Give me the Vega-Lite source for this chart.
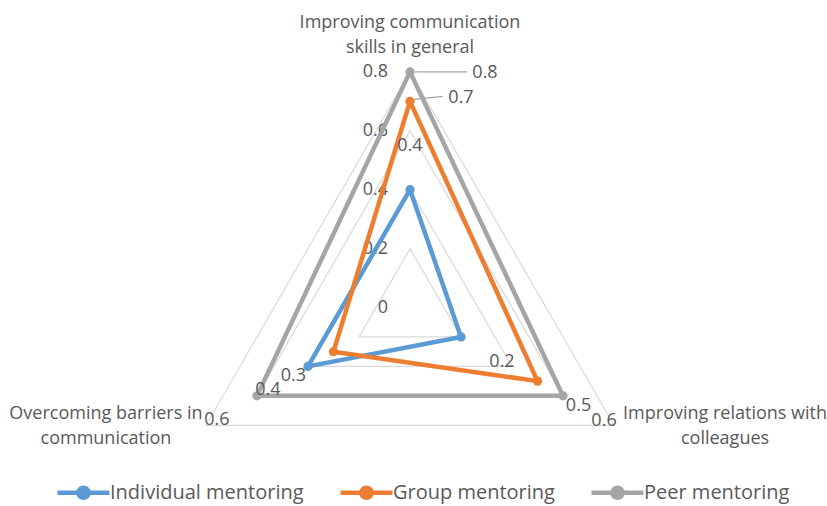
{
  "$schema": "https://vega.github.io/schema/vega-lite/v6.json",
  "width": 827,
  "height": 506,
  "autosize": "none",
  "padding": 0,
  "background": "white",
  "config": {"view": {"stroke": null}, "font": "Open Sans"},
  "datasets": {
    "scores": [
      {"series": "Individual mentoring", "category": "Improving communication skills in general", "k": 0, "value": 0.4},
      {"series": "Individual mentoring", "category": "Improving relations with colleagues", "k": 1, "value": 0.2},
      {"series": "Individual mentoring", "category": "Overcoming barriers in communication", "k": 2, "value": 0.4},
      {"series": "Group mentoring", "category": "Improving communication skills in general", "k": 0, "value": 0.7},
      {"series": "Group mentoring", "category": "Improving relations with colleagues", "k": 1, "value": 0.5},
      {"series": "Group mentoring", "category": "Overcoming barriers in communication", "k": 2, "value": 0.3},
      {"series": "Peer mentoring", "category": "Improving communication skills in general", "k": 0, "value": 0.8},
      {"series": "Peer mentoring", "category": "Improving relations with colleagues", "k": 1, "value": 0.6},
      {"series": "Peer mentoring", "category": "Overcoming barriers in communication", "k": 2, "value": 0.6}
    ],
    "grid": [
      {"level": 0.2, "k": 0}, {"level": 0.2, "k": 1}, {"level": 0.2, "k": 2},
      {"level": 0.4, "k": 0}, {"level": 0.4, "k": 1}, {"level": 0.4, "k": 2},
      {"level": 0.6, "k": 0}, {"level": 0.6, "k": 1}, {"level": 0.6, "k": 2},
      {"level": 0.8, "k": 0}, {"level": 0.8, "k": 1}, {"level": 0.8, "k": 2}
    ],
    "ticks": [{"level": 0}, {"level": 0.2}, {"level": 0.4}, {"level": 0.6}, {"level": 0.8}],
    "categories": [
      {"k": 0, "label": ["Improving communication", "skills in general"]},
      {"k": 1, "label": ["Improving relations with", "colleagues"]},
      {"k": 2, "label": ["Overcoming barriers in", "communication"]}
    ]
  },
  "encoding": {
    "x": {"field": "x", "type": "quantitative", "scale": {"domain": [-1.39219, 1.41596], "nice": false, "zero": false}, "axis": null},
    "y": {"field": "y", "type": "quantitative", "scale": {"domain": [-0.67402, 1.04414], "nice": false, "zero": false}, "axis": null}
  },
  "layer": [
    {
      "data": {"name": "grid"},
      "transform": [
        {"calculate": "datum.level * sin(datum.k * 2 * PI / 3)", "as": "x"},
        {"calculate": "datum.level * cos(datum.k * 2 * PI / 3)", "as": "y"}
      ],
      "mark": {"type": "line", "interpolate": "linear-closed", "stroke": "#d9d9d9", "strokeWidth": 1.2},
      "encoding": {"detail": {"field": "level"}, "order": {"field": "k"}}
    },
    {
      "data": {"name": "ticks"},
      "transform": [
        {"calculate": "0", "as": "x"},
        {"calculate": "datum.level", "as": "y"}
      ],
      "mark": {"type": "text", "align": "right", "baseline": "middle", "dx": -22, "fontSize": 18, "fill": "#595959"},
      "encoding": {"text": {"field": "level", "type": "quantitative", "format": ".1~f"}}
    },
    {
      "data": {"name": "categories"},
      "transform": [
        {"filter": "datum.k == 0"},
        {"calculate": "0.8 * sin(datum.k * 2 * PI / 3)", "as": "x"},
        {"calculate": "0.8 * cos(datum.k * 2 * PI / 3)", "as": "y"}
      ],
      "mark": {"type": "text", "align": "center", "baseline": "middle", "dy": -49, "lineHeight": 25, "fontSize": 18, "fill": "#595959"},
      "encoding": {"text": {"field": "label"}}
    },
    {
      "data": {"name": "categories"},
      "transform": [
        {"filter": "datum.k == 1"},
        {"calculate": "0.8 * sin(datum.k * 2 * PI / 3)", "as": "x"},
        {"calculate": "0.8 * cos(datum.k * 2 * PI / 3)", "as": "y"}
      ],
      "mark": {"type": "text", "align": "center", "baseline": "middle", "dx": 111, "dy": -11, "lineHeight": 25, "fontSize": 18, "fill": "#595959"},
      "encoding": {"text": {"field": "label"}}
    },
    {
      "data": {"name": "categories"},
      "transform": [
        {"filter": "datum.k == 2"},
        {"calculate": "0.8 * sin(datum.k * 2 * PI / 3)", "as": "x"},
        {"calculate": "0.8 * cos(datum.k * 2 * PI / 3)", "as": "y"}
      ],
      "mark": {"type": "text", "align": "center", "baseline": "middle", "dx": -100, "dy": -11, "lineHeight": 25, "fontSize": 18, "fill": "#595959"},
      "encoding": {"text": {"field": "label"}}
    },
    {
      "data": {"name": "scores"},
      "transform": [
        {"calculate": "datum.value * sin(datum.k * 2 * PI / 3)", "as": "x"},
        {"calculate": "datum.value * cos(datum.k * 2 * PI / 3)", "as": "y"}
      ],
      "layer": [
        {
          "mark": {"type": "line", "interpolate": "linear-closed", "strokeWidth": 4.5, "strokeJoin": "round"},
          "encoding": {
            "color": {
              "field": "series",
              "type": "nominal",
              "scale": {"domain": ["Individual mentoring", "Group mentoring", "Peer mentoring"], "range": ["#5B9BD5", "#ED7D31", "#A5A5A5"]},
              "legend": {
                "orient": "none",
                "legendX": 68,
                "legendY": 477,
                "direction": "horizontal",
                "title": null,
                "padding": 0,
                "symbolType": "M-2,0L2,0M-0.385,0A0.385,0.385,0,1,1,0.385,0A0.385,0.385,0,1,1,-0.385,0",
                "symbolSize": 676,
                "symbolStrokeWidth": 4.5,
                "labelFontSize": 20,
                "labelFont": "Open Sans",
                "labelColor": "#595959",
                "labelLimit": 400,
                "labelOffset": 11,
                "columnPadding": 27,
                "encode": {
                  "symbols": {
                    "update": {
                      "fill": {"scale": "color", "field": "value"},
                      "stroke": {"scale": "color", "field": "value"},
                      "opacity": {"value": 1}
                    }
                  }
                }
              }
            },
            "detail": {"field": "series"},
            "order": {"field": "k"}
          }
        },
        {
          "mark": {"type": "circle", "size": 85, "opacity": 1},
          "encoding": {"color": {"field": "series", "type": "nominal"}}
        },
        {
          "transform": [{"filter": "datum.k == 1"}],
          "mark": {"type": "text", "align": "center", "baseline": "middle", "dx": 41, "dy": 25, "fontSize": 18, "fill": "#595959"},
          "encoding": {"text": {"field": "value", "type": "quantitative", "format": ".1f"}}
        },
        {
          "transform": [{"filter": "datum.k == 2"}],
          "mark": {"type": "text", "align": "center", "baseline": "middle", "dx": -40, "dy": 24, "fontSize": 18, "fill": "#595959"},
          "encoding": {"text": {"field": "value", "type": "quantitative", "format": ".1f"}}
        },
        {
          "transform": [{"filter": "datum.k == 0 && datum.series == 'Individual mentoring'"}],
          "mark": {"type": "text", "align": "center", "baseline": "middle", "dx": 0, "dy": -44, "fontSize": 18, "fill": "#595959"},
          "encoding": {"text": {"field": "value", "type": "quantitative", "format": ".1f"}}
        },
        {
          "transform": [{"filter": "datum.k == 0 && datum.series == 'Group mentoring'"}],
          "mark": {"type": "text", "align": "center", "baseline": "middle", "dx": 51, "dy": -3, "fontSize": 18, "fill": "#595959"},
          "encoding": {"text": {"field": "value", "type": "quantitative", "format": ".1f"}}
        },
        {
          "transform": [{"filter": "datum.k == 0 && datum.series == 'Peer mentoring'"}],
          "mark": {"type": "text", "align": "center", "baseline": "middle", "dx": 75, "dy": 1, "fontSize": 18, "fill": "#595959"},
          "encoding": {"text": {"field": "value", "type": "quantitative", "format": ".1f"}}
        },
        {
          "transform": [{"filter": "datum.k == 0 && datum.series == 'Group mentoring'"}],
          "mark": {"type": "rule", "stroke": "#a6a6a6", "strokeWidth": 1.2, "xOffset": 4, "yOffset": -2, "x2Offset": 33, "y2Offset": -5},
          "encoding": {"x2": {"field": "x"}, "y2": {"field": "y"}}
        },
        {
          "transform": [{"filter": "datum.k == 0 && datum.series == 'Peer mentoring'"}],
          "mark": {"type": "rule", "stroke": "#a6a6a6", "strokeWidth": 1.2, "xOffset": 5, "x2Offset": 57},
          "encoding": {"x2": {"field": "x"}, "y2": {"field": "y"}}
        }
      ]
    }
  ]
}
